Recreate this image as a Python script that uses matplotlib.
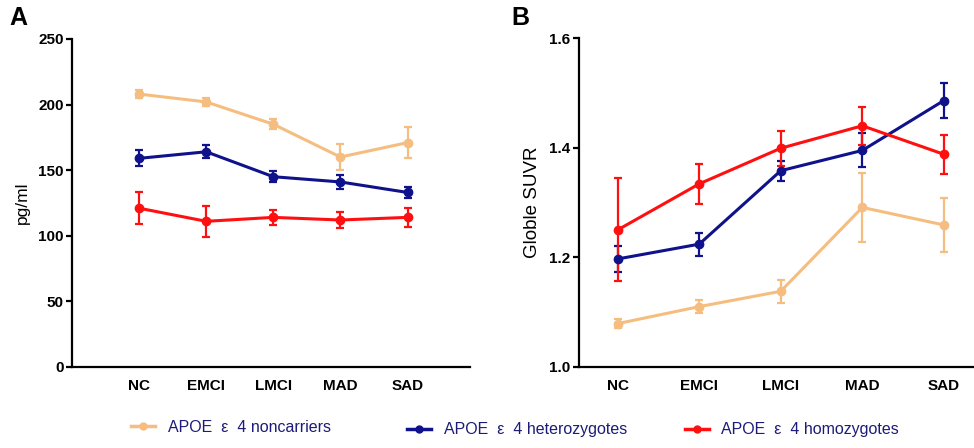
import matplotlib as mpl
import matplotlib.pyplot as plt
from matplotlib.lines import Line2D

mpl.rcParams['font.family'] = ['Liberation Sans', 'DejaVu Sans']

groups = ['NC', 'EMCI', 'LMCI', 'MAD', 'SAD']
series_names = ['APOE  \u03b5  4 noncarriers', 'APOE  \u03b5  4 heterozygotes', 'APOE  \u03b5  4 homozygotes']
colors = ['#F5BE80', '#0F128A', '#FF1010']

# panel A: pg/ml
a_non = [208, 202, 185, 160, 171]
a_non_err = [3, 3, 4, 10, 12]
a_het = [159, 164, 145, 141, 133]
a_het_err = [6, 5, 4, 5, 4]
a_hom = [121, 111, 114, 112, 114]
a_hom_err = [12, 12, 6, 6, 7]

# panel B: globle SUVR
b_non = [1.079, 1.110, 1.138, 1.291, 1.259]
b_non_err = [0.008, 0.012, 0.021, 0.063, 0.050]
b_het = [1.197, 1.224, 1.358, 1.395, 1.486]
b_het_err = [0.023, 0.021, 0.018, 0.031, 0.032]
b_hom = [1.250, 1.334, 1.399, 1.440, 1.388]
b_hom_err = [0.094, 0.036, 0.032, 0.035, 0.036]

fig = plt.figure(figsize=(9.74, 4.48), dpi=100)
axA = fig.add_axes([0.0739, 0.181, 0.4086, 0.732])
axB = fig.add_axes([0.594, 0.181, 0.406, 0.734])

x = list(range(len(groups)))

def draw(ax, data, errs):
    for vals, err, c in zip(data, errs, colors):
        ax.errorbar(x, vals, yerr=err, color=c, lw=2.2, marker='o', ms=6,
                    elinewidth=1.6, capsize=3, capthick=1.6, zorder=3)
    for s in ['top', 'right']:
        ax.spines[s].set_visible(False)
    for s in ['left', 'bottom']:
        ax.spines[s].set_linewidth(1.6)
    ax.set_xticks(x)
    ax.set_xticklabels(groups, fontweight='bold', fontsize=11)
    ax.tick_params(axis='x', length=0, pad=9)
    ax.tick_params(axis='y', length=4, width=1.6, labelsize=11, pad=2)

draw(axA, [a_non, a_het, a_hom], [a_non_err, a_het_err, a_hom_err])
axA.set_xlim(-1.0, 4.93)
axA.set_ylim(0, 250)
axA.set_yticks([0, 50, 100, 150, 200, 250])
axA.set_yticklabels(['0', '50', '100', '150', '200', '250'], fontweight='bold')
axA.set_ylabel('pg/ml', fontsize=12.5, labelpad=6)

draw(axB, [b_non, b_het, b_hom], [b_non_err, b_het_err, b_hom_err])
axB.set_xlim(-0.48, 4.37)
axB.set_ylim(1.0, 1.6)
axB.set_yticks([1.0, 1.2, 1.4, 1.6])
axB.set_yticklabels(['1.0', '1.2', '1.4', '1.6'], fontweight='bold')
axB.set_ylabel('Globle SUVR', fontsize=13.5, labelpad=6)

fig.text(0.010, 0.945, 'A', fontsize=18, fontweight='bold')
fig.text(0.525, 0.945, 'B', fontsize=18, fontweight='bold')

# legend at the bottom, three separate entries
leg_pos = [(0.135, 0.030), (0.418, 0.024), (0.703, 0.024)]
for name, c, pos in zip(series_names, colors, leg_pos):
    h = Line2D([], [], color=c, lw=2.5, marker='o', ms=5)
    leg = fig.legend([h], [name], loc='lower left', bbox_to_anchor=pos,
                     frameon=False, fontsize=11.5, handlelength=1.5,
                     handletextpad=0.8, borderpad=0, borderaxespad=0)
    for t in leg.get_texts():
        t.set_color('#1C1C78')

fig.savefig('out.png', dpi=100)
